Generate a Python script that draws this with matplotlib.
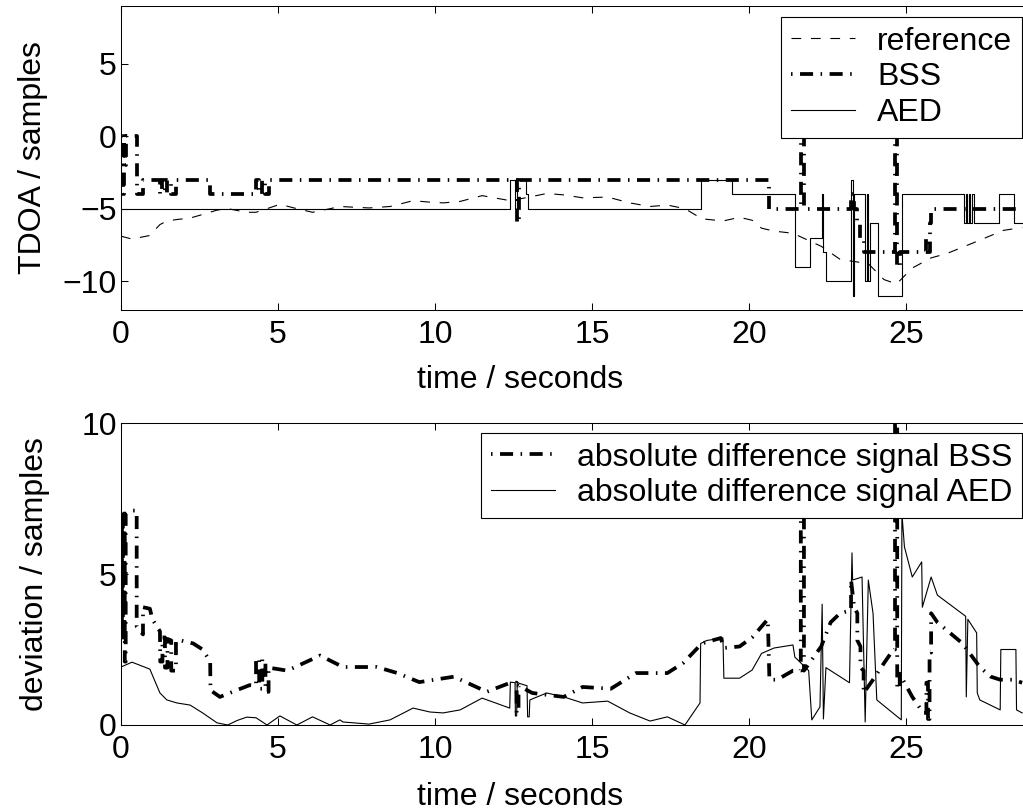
import matplotlib
matplotlib.use("Agg")
import matplotlib.pyplot as plt

plt.rcParams['font.family'] = ['Liberation Sans', 'DejaVu Sans']
plt.rcParams['font.size'] = 23
plt.rcParams['lines.scale_dashes'] = False
plt.rcParams['axes.linewidth'] = 0.75

# ---------------- data: top panel (TDOA) ----------------
ref_t = [0, 0.35, 0.92, 1.02, 1.24, 1.46, 1.78, 2.2, 2.6, 3.06, 3.4, 4.0, 4.3, 4.65,
         5.06, 5.6, 6.1, 6.66, 6.97, 7.9, 8.57, 9.3, 9.84, 10.26, 10.8, 11.5, 12.4,
         13.0, 13.56, 14.1, 14.7, 15.5, 16.2, 16.85, 17.4, 17.96, 18.5, 19.17, 19.7,
         20.1, 20.4, 20.8, 21.4, 21.9, 22.3, 22.9, 23.2, 23.8, 24.3, 24.7, 25.2, 25.8,
         26.3, 27.1, 28.1, 28.7]
ref_v = [-6.9, -7.1, -6.85, -6.6, -6.1, -5.85, -5.75, -5.65, -5.4, -5.1, -5.0, -5.25,
         -5.25, -5.0, -4.7, -5.0, -5.25, -5.0, -4.85, -4.95, -4.85, -4.45, -4.55, -4.6,
         -4.5, -4.1, -4.45, -4.2, -3.95, -4.05, -4.25, -4.2, -4.6, -4.85, -4.75, -5.0,
         -5.7, -5.85, -5.6, -5.8, -6.35, -6.55, -6.7, -7.2, -7.6, -8.5, -8.6, -8.8,
         -9.9, -10.2, -9.1, -8.4, -8.1, -7.4, -6.5, -6.3]

# BSS estimate, step values (value holds from each time to the next)
bss_t = [0, 0.03, 0.06, 0.09, 0.12, 0.15, 0.50, 0.70, 1.25, 1.32, 1.40, 1.48, 1.60,
         1.75, 2.85, 4.30, 4.40, 4.50, 4.60, 4.70, 12.60, 12.66, 20.65, 21.65, 21.75,
         23.25, 23.35, 23.45, 23.55, 23.65, 24.65, 24.72, 24.80, 25.65, 25.70, 25.75,
         25.80, 28.7]
bss_v = [-4, 0, -4, 0, -2, 0, -4, -3, -4, -3, -4, -3, -4, -3, -4, -3, -4, -3, -4, -3,
         -6, -3, -5, 0, -5, -4, -5, -6, -7, -8, 0, -9, -8, -7, -8, -6, -5, -5]

# AED estimate, step values
aed_t = [0, 12.40, 12.56, 12.62, 12.90, 12.97, 18.48, 19.45, 21.46, 21.94, 22.32,
         22.37, 22.45, 23.25, 23.30, 23.35, 23.70, 23.75, 23.80, 23.85, 24.10, 24.87,
         26.85, 26.90, 26.95, 27.00, 27.05, 27.10, 27.15, 27.95, 28.45, 28.7]
aed_v = [-5, -3, -5, -3, -4, -5, -3, -4, -9, -7, -4, -8, -10, -3, -11, -4, -10, -4,
         -10, -6, -11, -4, -6, -4, -6, -4, -6, -4, -6, -4, -6, -6]

# ---------------- data: bottom panel (deviation) ----------------
dbss_t = [0, 0.03, 0.03, 0.06, 0.06, 0.09, 0.09, 0.12, 0.12, 0.15, 0.15, 0.3, 0.5,
          0.5, 0.7, 0.7, 0.92, 1.0, 1.24, 1.25, 1.32, 1.32, 1.4, 1.4, 1.48, 1.48, 1.6,
          1.6, 1.75, 1.75, 1.9, 2.3, 2.6, 2.84, 2.85, 3.15, 3.7, 4.1, 4.3, 4.3, 4.4,
          4.4, 4.5, 4.5, 4.6, 4.6, 4.7, 4.7, 5.3, 6.34, 7.07, 8.15, 8.8, 9.5, 10.6,
          11.65, 12.4, 12.6, 12.6, 12.66, 12.66, 13.1, 14.1, 14.7, 15.6, 16.4, 17.4,
          17.9, 18.5, 19.1, 19.2, 19.7, 20.1, 20.6, 20.65, 20.9, 21.4, 21.65, 21.65,
          21.75, 21.75, 22.3, 22.6, 22.9, 23.25, 23.25, 23.35, 23.45, 23.45, 23.55,
          23.55, 23.65, 23.65, 23.95, 24.3, 24.6, 24.65, 24.65, 24.72, 24.72, 24.8,
          24.8, 24.9, 25.2, 25.55, 25.65, 25.65, 25.7, 25.7, 25.75, 25.75, 25.8, 25.8,
          26.0, 26.4, 26.8, 27.35, 27.7, 28.0, 28.4, 28.7]
dbss_v = [2.9, 2.9, 7.0, 7.0, 2.9, 2.9, 7.0, 7.0, 2.1, 2.1, 7.0, 7.1, 7.1,
          3.25, 3.0, 3.9, 3.85, 3.5, 3.1, 2.1, 2.1, 2.9, 2.9, 1.9, 1.9, 2.85, 2.8,
          1.8, 1.8, 2.8, 2.8, 2.7, 2.5, 2.1, 1.15, 0.93, 1.16, 1.32, 1.3, 2.2, 2.2,
          1.2, 1.2, 2.2, 2.1, 1.1, 1.1, 1.9, 1.8, 2.3, 1.92, 1.92, 1.72, 1.42, 1.6,
          1.1, 1.4, 1.4, 0.4, 0.4, 1.3, 1.06, 0.93, 1.26, 1.2, 1.72, 1.72,
          2.05, 2.7, 2.88, 2.55, 2.6, 2.9, 3.5, 1.5, 1.5, 1.8, 1.8, 6.9,
          6.9, 1.8, 2.6, 3.4, 3.7, 3.8, 4.8, 3.9, 3.7, 2.8, 2.6,
          1.9, 1.8, 1.06, 1.5, 2.05, 2.5, 2.5, 10.2, 10.2, 1.2, 1.2,
          1.7, 1.5, 0.93, 0.4, 0.4, 1.4, 1.4, 0.2, 0.2, 2.4, 2.4, 3.7,
          3.4, 3.05, 2.7, 1.92, 1.6, 1.5, 1.5, 1.4]

daed_t = [0, 0.35, 0.92, 1.02, 1.24, 1.46, 1.78, 2.2, 2.6, 3.06, 3.4, 3.7, 4.0, 4.3,
          4.65, 5.06, 5.6, 6.1, 6.66, 6.97, 7.07, 7.9, 8.57, 9.3, 9.84, 10.26, 10.8,
          11.5, 12.38, 12.4, 12.55, 12.56, 12.6, 12.62, 12.93, 12.95, 13.0, 13.02,
          13.56, 14.1, 14.7, 15.5, 16.2, 16.85, 17.4, 17.96, 18.44, 18.46, 18.66,
          19.17, 19.2, 19.7, 20.1, 20.4, 20.8, 21.4, 21.46, 21.9, 22.0, 22.26, 22.33,
          22.37, 22.45, 23.2, 23.28, 23.3, 23.6, 23.7, 23.8, 23.95, 24.07, 24.85,
          24.87, 24.95, 25.2, 25.5, 25.52, 25.8, 26.0, 26.9, 26.92, 26.97, 27.25,
          27.27, 27.35, 28.0, 28.02, 28.5, 28.52, 28.7]
daed_v = [1.92, 2.08, 1.85, 1.6, 1.06, 0.83, 0.73, 0.66, 0.4, 0.07, 0.0, 0.15, 0.26,
          0.24, 0.0, 0.3, 0.0, 0.27, 0.0, 0.17, 0.1, 0.03, 0.17, 0.56, 0.43, 0.4,
          0.5, 0.89, 0.56, 1.42, 1.4, 0.3, 0.3, 1.4, 1.3, 0.27, 0.27, 0.83, 1.06,
          0.93, 0.73, 0.79, 0.4, 0.13, 0.27, 0.0, 0.73, 2.7, 2.8, 2.88, 1.55, 1.55,
          1.82, 2.37, 2.55, 2.65, 2.25, 1.8, 0.17, 0.6, 4.0, 0.2, 1.9, 1.4, 5.7,
          4.8, 4.9, 0.1, 4.8, 3.7, 0.83, 0.17, 7.0, 5.9, 4.9, 5.4, 3.9, 4.9, 4.3,
          3.6, 0.93, 3.5, 3.05, 1.06, 0.83, 0.5, 2.5, 2.5, 0.5, 0.4]

top_yticks = [-10, -5, 0, 5]
bot_yticks = [0, 5, 10]
xticks = [0, 5, 10, 15, 20, 25]

# ---------------- styles ----------------
dashdot = (14.8, [9.4, 5.4, 1.1, 5.4])
ref_style = dict(color='black', lw=0.8, linestyle=(0, [7, 7]))
bss_style = dict(color='black', lw=2.7, linestyle=dashdot, dash_capstyle='butt')
aed_style = dict(color='black', lw=0.8)

W, H = 1023, 811
fig = plt.figure(figsize=(W / 100, H / 100), dpi=100)
ax1 = fig.add_axes([121 / W, 1 - 310 / H, 942 / W, 304 / H])
ax2 = fig.add_axes([121 / W, 1 - 725 / H, 942 / W, 302 / H])

l_ref, = ax1.plot(ref_t, ref_v, label='reference', **ref_style)
l_bss, = ax1.step(bss_t, bss_v, where='post', label='BSS', **bss_style)
l_aed, = ax1.step(aed_t, aed_v, where='post', label='AED', **aed_style)

m_bss, = ax2.plot(dbss_t, dbss_v, label='absolute difference signal BSS', **bss_style)
m_aed, = ax2.plot(daed_t, daed_v, label='absolute difference signal AED', **aed_style)

for ax in (ax1, ax2):
    ax.set_xlim(0, 30)
    ax.set_xticks(xticks)
    ax.tick_params(direction='in', length=5, width=0.75, top=True, right=True)
    ax.tick_params(axis='x', pad=7)
    ax.tick_params(axis='y', pad=3)
    for s in ax.spines.values():
        s.set_linewidth(0.75)

ax1.set_ylim(-12, 9)
ax1.set_yticks(top_yticks)
ax2.set_ylim(0, 10)
ax2.set_yticks(bot_yticks)

ax1.set_xlabel('time / seconds')
ax1.xaxis.set_label_coords(0.4236, -0.18)
ax1.set_ylabel('TDOA / samples')
ax1.yaxis.set_label_coords(-0.077, 0.5)

ax2.set_xlabel('time / seconds')
ax2.xaxis.set_label_coords(0.4236, -0.19)
ax2.set_ylabel('deviation / samples')
ax2.yaxis.set_label_coords(-0.075, 0.5)

leg_kw = dict(loc='upper right', bbox_transform=fig.transFigure, fancybox=False,
              edgecolor='black', framealpha=1, borderpad=0.3, labelspacing=0.18,
              handlelength=2.0, handletextpad=0.7, borderaxespad=0)
lg1 = ax1.legend(handles=[l_ref, l_bss, l_aed], bbox_to_anchor=(1022 / W, 1 - 17 / H), **leg_kw)
lg2 = ax2.legend(handles=[m_bss, m_aed], bbox_to_anchor=(1022 / W, 1 - 433 / H), **leg_kw)
for lg in (lg1, lg2):
    lg.get_frame().set_linewidth(0.8)

fig.savefig('out.png', dpi=100)
